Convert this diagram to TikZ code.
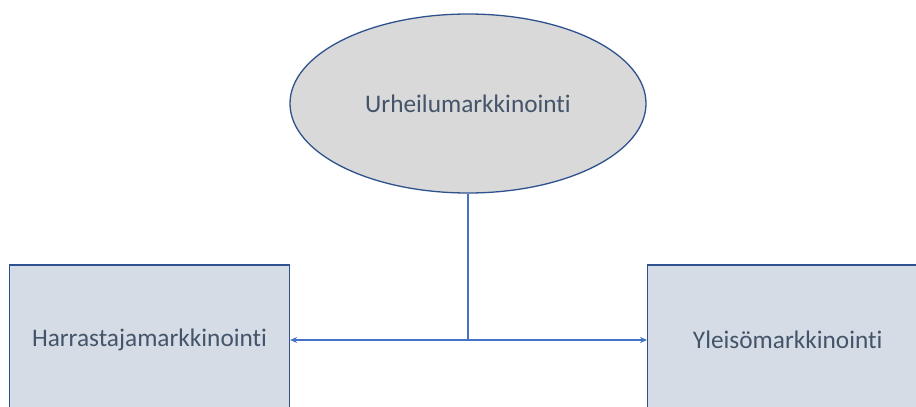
\documentclass[tikz,border=0pt]{standalone}
\usepackage{fontspec}
\setmainfont{Carlito}[Ligatures=NoCommon]
\usetikzlibrary{shapes.geometric,arrows.meta}
\definecolor{edgeblue}{HTML}{2F528F}
\definecolor{linkblue}{HTML}{4472C4}
\definecolor{textgray}{HTML}{44546A}
\definecolor{ovalfill}{HTML}{D9D9D9}
\definecolor{boxfill}{HTML}{D6DCE5}
\tikzset{
  x=1pt, y=-1pt,
  label text/.style={text=textgray, font=\fontsize{25.3}{30}\selectfont},
  oval/.style={ellipse, draw=edgeblue, fill=ovalfill, line width=1.3pt,
    minimum width=356pt, minimum height=179pt, inner sep=0pt, label text},
  boxnode/.style={rectangle, draw=edgeblue, fill=boxfill, line width=1.3pt,
    minimum width=280pt, minimum height=150pt, inner sep=0pt, label text},
  link/.style={draw=linkblue, line width=1.3pt},
  linkarrow/.style={link, {Stealth[length=7pt,width=6pt]}-{Stealth[length=7pt,width=6pt]}}
}
\begin{document}
\begin{tikzpicture}
  \useasboundingbox (0,0) rectangle (916,407);
  \clip (0,0) rectangle (916,407);
  \fill[white] (0,0) rectangle (916,407);
  \node[oval] (top) at (468,103.5) {Urheilumarkkinointi};
  \node[boxnode] (left) at (149.5,340) {Harrastajamarkkinointi};
  \node[boxnode] (right) at (787.7,340) {Yleisömarkkinointi};
  \coordinate (junction) at (468,340);
  \draw[link] (top.south) -- (junction);
  \draw[linkarrow] (left.east) -- (right.west);
\end{tikzpicture}
\end{document}
